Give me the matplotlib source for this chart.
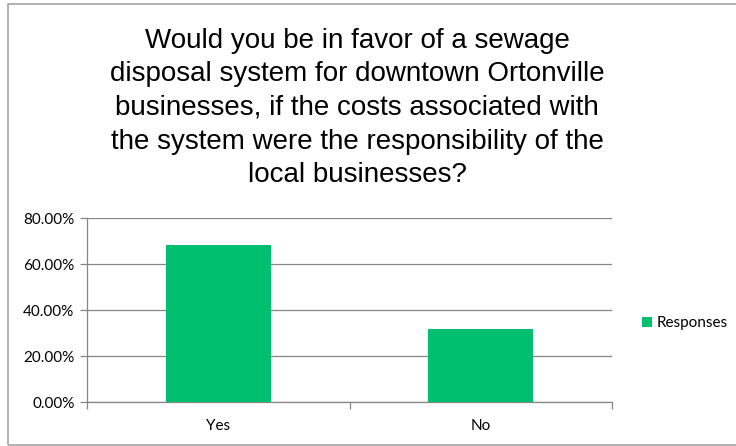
import matplotlib
matplotlib.use("Agg")
import matplotlib.pyplot as plt
from matplotlib.patches import Rectangle
from matplotlib.ticker import FuncFormatter, FixedLocator

# data
categories = ["Yes", "No"]
responses = [68.3, 31.7]
title = ("Would you be in favor of a sewage\n"
         "disposal system for downtown Ortonville\n"
         "businesses, if the costs associated with\n"
         "the system were the responsibility of the\n"
         "local businesses?")

bar_color = "#00BF6F"
grid_color = "#868686"
label_font = "Lato"

fig = plt.figure(figsize=(7.36, 4.46), dpi=100)
ax = fig.add_axes([87 / 736, 1 - 402 / 446, (612 - 87) / 736, (402 - 218) / 446])

x = list(range(len(categories)))
ax.bar(x, responses, width=0.4, color=bar_color, zorder=3, label="Responses")
ax.set_xlim(-0.5, len(categories) - 0.5)
ax.set_ylim(0, 80)
ax.set_yticks([0, 20, 40, 60, 80])
ax.yaxis.set_major_formatter(FuncFormatter(lambda v, p: "%.2f%%" % v))
ax.grid(axis="y", color=grid_color, linewidth=0.9, zorder=0)

ax.set_xticks(x)
ax.set_xticklabels(categories)
ax.xaxis.set_minor_locator(FixedLocator([-0.5, 0.5, 1.5]))
ax.tick_params(axis="x", which="major", length=0, pad=12)
ax.tick_params(axis="x", which="minor", length=5, color=grid_color, width=0.9)
ax.tick_params(axis="y", length=5, color=grid_color, width=0.9, pad=4)
for lab in ax.get_xticklabels() + ax.get_yticklabels():
    lab.set_fontfamily(label_font)
    lab.set_fontsize(11)

for side in ["top", "right"]:
    ax.spines[side].set_visible(False)
for side in ["left", "bottom"]:
    ax.spines[side].set_color(grid_color)
    ax.spines[side].set_linewidth(0.9)

fig.text(357 / 736, 1 - 108 / 446, title, ha="center", va="center",
         fontsize=20, family="Liberation Sans", linespacing=1.38)

leg = fig.legend(loc="center left", bbox_to_anchor=(628 / 736, 1 - 323 / 446),
                 frameon=False, handlelength=0.65, handleheight=0.65,
                 handletextpad=0.3, prop={"family": label_font, "size": 11})

fig.patches.append(Rectangle((8 / 736, 1 / 446), 740 / 736, 441 / 446,
                             transform=fig.transFigure, fill=False,
                             edgecolor="#A6A6A6", linewidth=1.2))

fig.savefig("out.png", dpi=100)
